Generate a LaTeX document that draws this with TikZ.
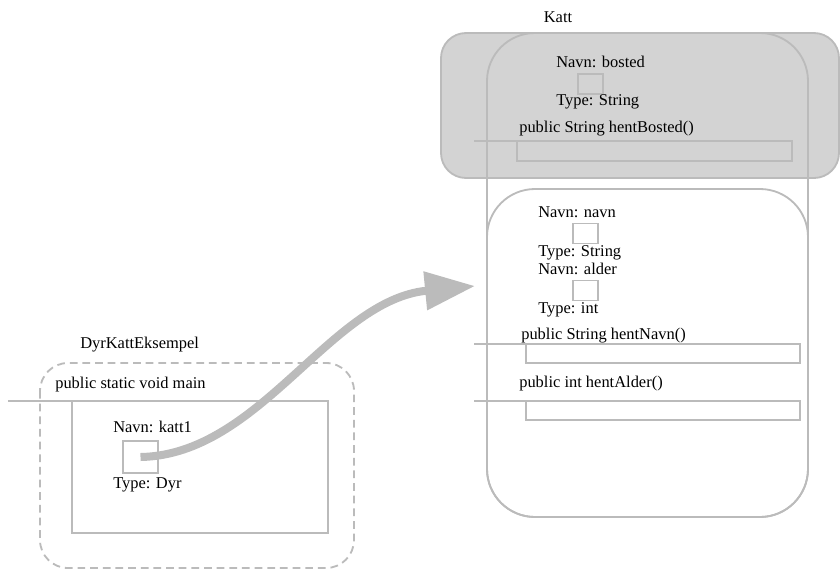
\documentclass[tikz,border=0pt]{standalone}
\usepackage{fontspec}
\setmainfont{Liberation Serif}
\usetikzlibrary{arrows.meta}
\definecolor{strek}{HTML}{BBBBBB}
\definecolor{skygge}{HTML}{D3D3D3}
\tikzset{
	ramme/.style={line width=1.3pt, color=strek},
	felt/.style={draw=strek, line width=1.3pt, inner sep=0pt, minimum width=0.625cm, minimum height=0.5cm},
	tekst/.style={anchor=base west, inner sep=0pt, font=\fontsize{11.7pt}{13pt}\selectfont},
	pil/.style={line width=0.2cm, color=strek, -{Triangle[length=1.25cm,width=0.925cm]}}
}

\begin{document}
\begin{tikzpicture}
		%%%%% START %%%%%
		\useasboundingbox (0, 0) rectangle (21, -14.275);
		
		% Katt-objektet
		\draw[ramme, fill=skygge, rounded corners=0.625cm] (11.025, -0.825) rectangle (20.975, -4.45);
		\draw[ramme, rounded corners=1.2cm] (12.175, -0.825) rectangle (20.2, -12.925);
		\draw[ramme, rounded corners=1.2cm] (12.175, -4.725) rectangle (20.2, -12.925);
		\node[tekst, anchor=base] (katt) at (13.95, -0.55) {Katt};
		
		\node[tekst] (bostednavn) at (13.9, -1.675) {Navn: bosted};
		\node[felt] (bosted) at (14.7625, -2.1) {};
		\node[tekst] (bostedtype) at (13.9, -2.625) {Type: String};
		\node[tekst] (hentbosted) at (12.975, -3.3) {public String hentBosted()};
		\draw[ramme] (12.925, -3.525) rectangle (19.8, -4.025);
		\draw[ramme] (11.85, -3.525) -- (14.35, -3.525);
		
		\node[tekst] (navnnavn) at (13.45, -5.425) {Navn: navn};
		\node[felt] (navn) at (14.6375, -5.8375) {};
		\node[tekst] (navntype) at (13.45, -6.4) {Type: String};
		\node[tekst] (aldernavn) at (13.45, -6.85) {Navn: alder};
		\node[felt] (alder) at (14.6375, -7.2625) {};
		\node[tekst] (aldertype) at (13.45, -7.825) {Type: int};
		
		\node[tekst] (hentnavn) at (13.025, -8.475) {public String hentNavn()};
		\draw[ramme] (13.15, -8.6) rectangle (20, -9.075);
		\draw[ramme] (11.85, -8.6) -- (14.325, -8.6);
		\node[tekst] (hentalder) at (12.975, -9.675) {public int hentAlder()};
		\draw[ramme] (13.15, -10.025) rectangle (20, -10.5);
		\draw[ramme] (11.85, -10.025) -- (14.325, -10.025);
		\coordinate (kattinn) at (11.875, -7.15);
		
		% DyrKattEksempel
		\node[tekst] (eksempel) at (2, -8.7) {DyrKattEksempel};
		\draw[ramme, dash pattern=on 5.5pt off 3.5pt, rounded corners=0.7cm] (1, -9.075) rectangle (8.85, -14.2);
		\node[tekst] (main) at (1.375, -9.7) {public static void main};
		\draw[ramme] (1.8, -10.025) rectangle (8.2, -13.325);
		\draw[ramme] (0.2, -10.025) -- (2.675, -10.025);
		
		\node[tekst] (katt1navn) at (2.825, -10.8) {Navn: katt1};
		\node[felt, minimum width=0.875cm, minimum height=0.8cm] (katt1) at (3.5125, -11.425) {};
		\node[tekst] (katt1type) at (2.825, -12.2) {Type: Dyr};
		
		\draw[pil] (katt1.center) .. controls (6.5, -11.375) and (8.25, -7.5) .. (kattinn);
		
		%%%%% END %%%%%
	\end{tikzpicture}
\end{document}
